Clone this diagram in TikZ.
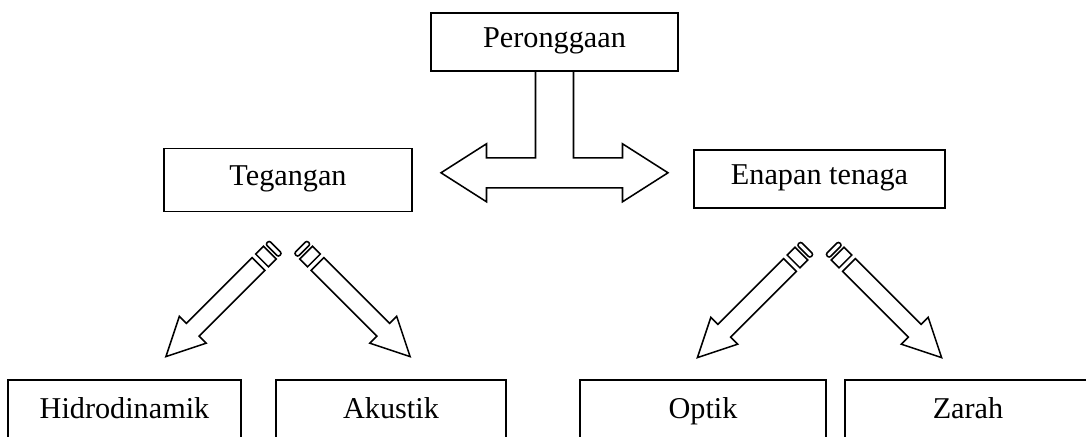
\documentclass[tikz,border=0pt]{standalone}
\usepackage{fontspec}
\setmainfont{Liberation Serif}
\usepackage{tikz}
\usetikzlibrary{calc}
\tikzset{kotak/.style={draw, line width=1.1pt, inner sep=0pt, text height=0.9em, text depth=0.12em, font=\fontsize{21.5}{26}\selectfont}}
\def\stripedarrow(#1)(#2){\begin{scope}[shift={(#1)},rotate=#2,line width=1.1pt]
	\draw[rounded corners=1.5pt] (0,-9) rectangle (5,9);
	\draw (8,-9) rectangle (19,9);
	\draw (24,-9) -- (117,-9) -- (117,-19) -- (155,0) -- (117,19) -- (117,9) -- (24,9) -- cycle;
	\end{scope}}

\begin{document}
\begin{tikzpicture}[x=0.025cm, y=-0.025cm]
		%%%%% START %%%%%
		
		\clip (0,0) rectangle (1086,436);
		
		\node[kotak, minimum width=6.18cm, minimum height=1.45cm] (per) at (554.5, 42) {Peronggaan};
		\node[kotak, minimum width=6.2cm, minimum height=1.57cm] (teg) at (288, 180) {Tegangan};
		\node[kotak, minimum width=6.28cm, minimum height=1.45cm] (ena) at (819.5, 179) {Enapan tenaga};
		
		\draw[line width=1.1pt] ($(per.south)+(-19,0)$) -- ++(0,86) -- ++(-49,0) -- ++(0,-14) -- ++(-45.5,29) -- ++(45.5,29) -- ++(0,-14) -- ++(136,0) -- ++(0,14) -- ++(45.5,-29) -- ++(-45.5,-29) -- ++(0,14) -- ++(-49,0) -- ++(0,-86);
		
		\node[kotak, minimum width=5.83cm, minimum height=1.65cm] (hid) at (124.5, 413) {Hidrodinamik};
		\node[kotak, minimum width=5.75cm, minimum height=1.65cm] (aku) at (391, 413) {Akustik};
		\node[kotak, minimum width=6.15cm, minimum height=1.65cm] (opt) at (703, 413) {Optik};
		\node[kotak, minimum width=6.15cm, minimum height=1.65cm] (zar) at (968, 413) {Zarah};
		
		\coordinate (tegL) at ($(teg)+(-12.5,67)$);
		\coordinate (tegR) at ($(teg)+(12.5,67)$);
		\coordinate (enaL) at ($(ena)+(-12.5,69)$);
		\coordinate (enaR) at ($(ena)+(12.5,69)$);
		
		\stripedarrow(tegL)(225)
		\stripedarrow(tegR)(-45)
		\stripedarrow(enaL)(225)
		\stripedarrow(enaR)(-45)
		
		%%%%% END %%%%%
	\end{tikzpicture}
\end{document}
